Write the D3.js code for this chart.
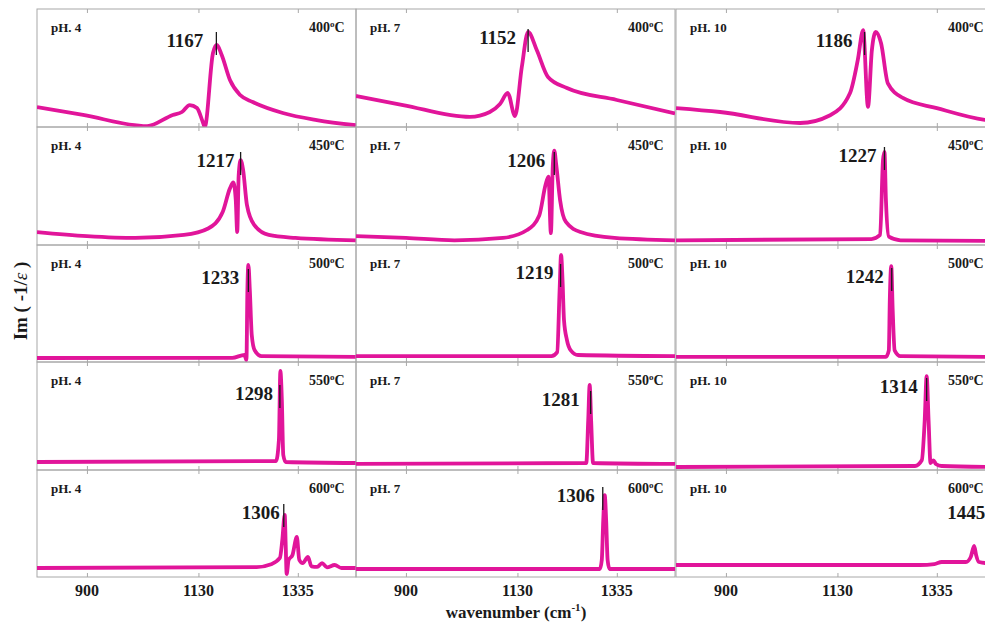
<!DOCTYPE html>
<html>
<head>
<meta charset="utf-8">
<script src="https://cdn.jsdelivr.net/npm/d3@7"></script>
<style>
  body { margin: 0; background: #fff; }
  text { font-family: "Liberation Serif", "Times New Roman", serif; font-weight: bold; }
</style>
</head>
<body>
<div id="chart"></div>
<script>
// Chart size
const width = 985;
const height = 628;

// Panel labels
const phLevels = ["pH. 4", "pH. 7", "pH. 10"];
const temps = ["400", "450", "500", "550", "600"];
const peakLabels = [
    [1167, 1152, 1186],
    [1217, 1206, 1227],
    [1233, 1219, 1242],
    [1298, 1281, 1314],
    [1306, 1306, 1445]
];
const tickValues = [900, 1130, 1335];
const xDomain = [797, 1455];

// Spectra, [wavenumber, Im(-1/eps) in % of panel height]
const s400pH4 = [[797, 16.9], [892, 10.2], [1024, 0.8], [1077, 10.2], [1096, 12.7], [1112, 18.6], [1127, 16.1], [1139, 4.2], [1143, 0], [1160, 62.7], [1168, 69.5], [1178, 61], [1195, 39.8], [1216, 27.1], [1242, 21.2], [1304, 11.9], [1374, 5.9], [1455, 1.5]];
const s400pH7 = [[797, 26.3], [894, 18.6], [1032, 8.5], [1073, 12.7], [1094, 19.5], [1110, 28.8], [1125, 9.3], [1139, 50.8], [1152, 80.5], [1170, 65], [1193, 42.4], [1232, 33], [1335, 22.9], [1455, 11.5]];
const s400pH10 = [[797, 16], [888, 12.7], [1053, 3.4], [1115, 10], [1156, 28.8], [1172, 56.8], [1183, 82], [1193, 17], [1201, 65], [1209, 80.5], [1220, 71], [1234, 37], [1265, 24.6], [1335, 16], [1434, 6], [1455, 5]];

const s450pH4 = [[797, 11], [900, 7.6], [1000, 6], [1100, 8.5], [1150, 14], [1180, 28], [1195, 48], [1202, 53], [1207, 38], [1210, 11], [1213, 59], [1217, 72], [1222, 64], [1230, 34], [1245, 17], [1275, 8.5], [1330, 6], [1455, 4]];
const s450pH7 = [[797, 7.6], [900, 6], [1000, 4], [1100, 6], [1150, 12.7], [1175, 25], [1188, 51], [1194, 58], [1199, 10], [1203, 68], [1206, 80], [1210, 68], [1218, 38], [1230, 19.5], [1260, 11], [1330, 6], [1455, 4]];
const s450pH10 = [[797, 4], [1200, 5], [1218, 8.5], [1224, 72], [1227, 79], [1230, 38], [1236, 7], [1260, 4], [1455, 3.4]];

const s500pH4 = [[797, 3.4], [1200, 3.6], [1225, 6], [1229, 1.7], [1231, 61.5], [1233, 82.9], [1236, 61.5], [1240, 23], [1246, 10], [1260, 5], [1455, 4.3]];
const s500pH7 = [[797, 5], [1200, 5], [1212, 8.5], [1217, 61.5], [1220, 91.5], [1223, 70], [1226, 36], [1232, 19], [1240, 10], [1255, 6], [1455, 5]];
const s500pH10 = [[797, 4.3], [1230, 4.5], [1236, 10], [1238, 53], [1241, 82], [1244, 44], [1248, 10], [1260, 5], [1455, 4.3]];

const s550pH4 = [[797, 7.4], [1290, 8.3], [1296, 28], [1299, 91.7], [1302, 65.7], [1305, 13.9], [1310, 7.4], [1455, 6.5]];
const s550pH7 = [[797, 5.6], [1272, 6.5], [1276, 46], [1279, 78.7], [1282, 46], [1286, 6.5], [1455, 5.6]];
const s550pH10 = [[797, 2.8], [1290, 3.7], [1304, 9], [1310, 46], [1314, 87], [1318, 46], [1322, 6.5], [1328, 9], [1333, 5.6], [1345, 3.7], [1455, 2.8]];

const s600pH4 = [[797, 8.4], [1250, 9.3], [1280, 12], [1298, 17.8], [1303, 34.6], [1308, 58], [1310, 29.9], [1312, 2.8], [1316, 15.9], [1324, 20.6], [1333, 37.4], [1338, 16], [1345, 13], [1356, 18.7], [1363, 10], [1375, 9.5], [1385, 13], [1395, 9], [1411, 11.2], [1425, 8.4], [1455, 8.4]];
const s600pH7 = [[797, 7.5], [1300, 7.5], [1304, 15.9], [1307, 53], [1310, 76.6], [1313, 53], [1316, 15.9], [1320, 7.5], [1455, 7.5]];
const s600pH10 = [[797, 11.2], [1300, 11.2], [1330, 12], [1345, 14], [1395, 14], [1405, 18.7], [1412, 29], [1416, 20.6], [1422, 14], [1440, 13], [1455, 13]];

const spectra = [
    [s400pH4, s400pH7, s400pH10],
    [s450pH4, s450pH7, s450pH10],
    [s500pH4, s500pH7, s500pH10],
    [s550pH4, s550pH7, s550pH10],
    [s600pH4, s600pH7, s600pH10]
];

// Layout
const colLefts = [37, 356, 676];
const panelWidth = 319;
const rowTops = [9, 127, 245, 362, 470];
const rowBottoms = [127, 245, 362, 470, 577];
// label layout per panel: [gap left of marker, baseline below panel top]
const labelLayout = [
    [[13, 38], [12, 35], [12, 38]],
    [[6, 40], [9, 40], [8, 35]],
    [[9, 39], [7, 34], [8, 38]],
    [[7, 38], [11, 44], [9, 31]],
    [[4, 49], [8, 32], [5, 49]]
];

const STYLES = {
    curve: "#e1159a",
    border: "#a8a8a8",
    marker: "#1a1a1a",
    text: "#1a1a1a"
};

const svg = d3.select("#chart")
    .append("svg")
    .attr("width", width)
    .attr("height", height);

const defs = svg.append("defs");

rowTops.forEach((top, r) => {
    const bottom = rowBottoms[r];
    colLefts.forEach((left, c) => {
        const x = d3.scaleLinear().domain(xDomain).range([left, left + panelWidth]);
        const y = d3.scaleLinear().domain([0, 100]).range([bottom, top]);
        const g = svg.append("g");
        const clipId = `clip-${r}-${c}`;

        defs.append("clipPath")
            .attr("id", clipId)
            .append("rect")
            .attr("x", left)
            .attr("y", top)
            .attr("width", panelWidth)
            .attr("height", bottom - top);

        // panel frame
        g.append("rect")
            .attr("x", left)
            .attr("y", top)
            .attr("width", panelWidth)
            .attr("height", bottom - top)
            .attr("fill", "none")
            .attr("stroke", STYLES.border)
            .attr("stroke-width", 1);

        // tick marks on top and bottom
        g.append("g")
            .attr("transform", `translate(0,${bottom})`)
            .call(d3.axisBottom(x).tickValues(tickValues).tickSize(-4).tickFormat(""))
            .call(a => a.select(".domain").remove())
            .call(a => a.selectAll("line").attr("stroke", STYLES.border));
        g.append("g")
            .attr("transform", `translate(0,${top})`)
            .call(d3.axisTop(x).tickValues(tickValues).tickSize(-4).tickFormat(""))
            .call(a => a.select(".domain").remove())
            .call(a => a.selectAll("line").attr("stroke", STYLES.border));

        // spectrum
        const line = d3.line()
            .x(d => x(d[0]))
            .y(d => y(d[1]))
            .curve(d3.curveMonotoneX);

        g.append("path")
            .datum(spectra[r][c])
            .attr("clip-path", `url(#${clipId})`)
            .attr("d", line)
            .attr("fill", "none")
            .attr("stroke", STYLES.curve)
            .attr("stroke-width", 3.8)
            .attr("stroke-linejoin", "round");

        // peak marker and label
        const peak = peakLabels[r][c];
        const [gap, base] = labelLayout[r][c];
        g.append("line")
            .attr("x1", x(peak))
            .attr("x2", x(peak))
            .attr("y1", top + base - 15)
            .attr("y2", top + base + 8)
            .attr("stroke", STYLES.marker)
            .attr("stroke-width", 1.3);

        g.append("text")
            .attr("x", x(peak) - gap)
            .attr("y", top + base)
            .attr("text-anchor", "end")
            .attr("font-size", 19)
            .attr("fill", STYLES.text)
            .text(peak);

        // pH label
        g.append("text")
            .attr("x", left + 14)
            .attr("y", top + 23)
            .attr("font-size", 13)
            .attr("fill", STYLES.text)
            .text(phLevels[c]);

        // temperature label
        const t = g.append("text")
            .attr("x", left + 272)
            .attr("y", top + 23)
            .attr("font-size", 14)
            .attr("fill", STYLES.text);
        t.append("tspan").text(temps[r]);
        t.append("tspan").attr("font-size", 9).attr("dy", -5).text("o");
        t.append("tspan").attr("dy", 5).text("C");

        // tick labels under the bottom row
        if (r === rowTops.length - 1) {
            g.selectAll("text.tick-label")
                .data(tickValues)
                .enter()
                .append("text")
                .attr("class", "tick-label")
                .attr("x", d => x(d))
                .attr("y", 596)
                .attr("text-anchor", "middle")
                .attr("font-size", 16)
                .attr("fill", STYLES.text)
                .text(d => d);
        }
    });
});

// x axis title
const xt = svg.append("text")
    .attr("x", 516)
    .attr("y", 618)
    .attr("text-anchor", "middle")
    .attr("font-size", 17)
    .attr("fill", STYLES.text);
xt.append("tspan").text("wavenumber (cm");
xt.append("tspan").attr("font-size", 11).attr("dy", -7).text("-1");
xt.append("tspan").attr("dy", 7).text(")");

// y axis title
const yt = svg.append("text")
    .attr("transform", "translate(27,301) rotate(-90)")
    .attr("text-anchor", "middle")
    .attr("font-size", 19)
    .attr("fill", STYLES.text);
yt.append("tspan").text("Im ( -1/");
yt.append("tspan").attr("font-style", "italic").attr("font-weight", "normal").text("ε");
yt.append("tspan").text(" )");
</script>
</body>
</html>
